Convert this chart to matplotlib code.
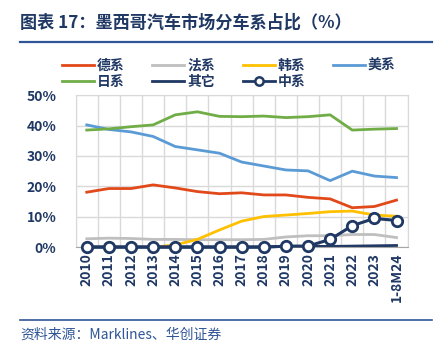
import matplotlib
matplotlib.use("Agg")
from matplotlib import pyplot as plt
from matplotlib.lines import Line2D

plt.rcParams['font.family'] = ['Noto Sans CJK SC', 'DejaVu Sans']

years = ["2010", "2011", "2012", "2013", "2014", "2015", "2016", "2017",
         "2018", "2019", "2020", "2021", "2022", "2023", "1-8M24"]

german   = [18.1, 19.3, 19.3, 20.5, 19.5, 18.3, 17.6, 17.9, 17.2, 17.2, 16.4, 15.9, 13.0, 13.4, 15.5]
french   = [2.8, 3.0, 2.9, 2.6, 2.6, 2.5, 2.5, 2.5, 2.6, 3.4, 3.8, 3.8, 4.2, 4.2, 3.2]
korean   = [0.0, 0.0, 0.0, 0.0, 0.8, 2.6, 5.7, 8.6, 10.1, 10.6, 11.1, 11.7, 11.9, 10.6, 10.2]
american = [40.2, 38.7, 37.9, 36.4, 33.1, 32.0, 30.9, 28.0, 26.7, 25.4, 25.1, 21.9, 25.0, 23.4, 22.9]
japanese = [38.5, 38.9, 39.6, 40.2, 43.5, 44.5, 43.0, 42.9, 43.1, 42.6, 42.9, 43.5, 38.5, 38.8, 39.0]
others   = [0.2, 0.2, 0.2, 0.2, 0.2, 0.2, 0.2, 0.2, 0.2, 0.3, 0.3, 0.3, 0.4, 0.5, 0.6]
chinese  = [0.0, 0.0, 0.0, 0.0, 0.0, 0.0, 0.0, 0.0, 0.0, 0.4, 0.4, 2.6, 7.1, 9.5, 8.8]

NAVY = "#1F3864"
TXT = "#203864"

fig = plt.figure(figsize=(4.44, 3.56), dpi=100)
ax = fig.add_axes([0.1705, 0.3053, 0.7475, 0.4277])

xs = range(len(years))
ax.plot(xs, french, color="#BFBFBF", lw=2)
ax.plot(xs, korean, color="#FFC000", lw=2)
ax.plot(xs, german, color="#E2491A", lw=2)
ax.plot(xs, american, color="#5B9BD5", lw=2)
ax.plot(xs, japanese, color="#70AD47", lw=2)
ax.plot(xs, others, color=NAVY, lw=2)
ax.plot(xs, chinese, color=NAVY, lw=2.2, marker="o", ms=7.5,
        mfc="white", mec=NAVY, mew=2, clip_on=False, zorder=5)

ax.set_xlim(-0.5, len(years) - 0.5)
ax.set_ylim(0, 50)
ax.set_yticks([0, 10, 20, 30, 40, 50])
ax.set_yticklabels([f"{v}%" for v in [0, 10, 20, 30, 40, 50]])
ax.set_xticks(list(xs))
ax.set_xticklabels(years, rotation=90)
ax.set_xticks([i + 0.5 for i in range(-1, len(years))], minor=True)

ax.grid(True, axis="y", color="#D9D9D9", lw=1)
ax.grid(True, axis="x", which="minor", color="#D9D9D9", lw=1)
ax.set_axisbelow(True)
for s in ax.spines.values():
    s.set_color("#D9D9D9")
ax.spines["bottom"].set_color("#A6A6A6")
ax.tick_params(which="both", length=0)
ax.tick_params(axis="y", pad=14)
ax.tick_params(axis="x", pad=4)
for lab in ax.get_xticklabels() + ax.get_yticklabels():
    lab.set_fontweight("bold")
    lab.set_color(TXT)
    lab.set_fontsize(10)

# legend
handles = [
    Line2D([], [], color="#E2491A", lw=2),
    Line2D([], [], color="#BFBFBF", lw=2),
    Line2D([], [], color="#FFC000", lw=2),
    Line2D([], [], color="#5B9BD5", lw=2),
    Line2D([], [], color="#70AD47", lw=2),
    Line2D([], [], color=NAVY, lw=2),
    Line2D([], [], color=NAVY, lw=2, marker="o", ms=6, mfc="white", mec=NAVY, mew=1.8),
]
labels = ["德系", "法系", "韩系", "美系", "日系", "其它", "中系"]
# fill row-wise into 4 columns
order = [0, 4, 1, 5, 2, 6, 3]
leg = fig.legend([handles[i] for i in order], [labels[i] for i in order],
                 ncol=4, loc="upper left", bbox_to_anchor=(0.112, 0.87),
                 frameon=False, handlelength=2.3, handletextpad=0.2,
                 columnspacing=2.0, labelspacing=0.15,
                 prop={"weight": "bold", "size": 10})
for t in leg.get_texts():
    t.set_color(TXT)

# title and frame lines
fig.text(0.045, 0.936, "图表 17：墨西哥汽车市场分车系占比（%）", fontsize=12.3,
         fontweight="bold", color=TXT, va="center", ha="left")
fig.add_artist(Line2D([0.045, 0.973], [0.883, 0.883], color="#2F5597", lw=1.6))
fig.add_artist(Line2D([0.045, 0.973], [0.101, 0.101], color="#2F5597", lw=1.2))
fig.text(0.045, 0.059, "资料来源：Marklines、华创证券", fontsize=10,
         style="italic", color="#2F5597", va="center", ha="left")

fig.savefig("out.png", dpi=100)
